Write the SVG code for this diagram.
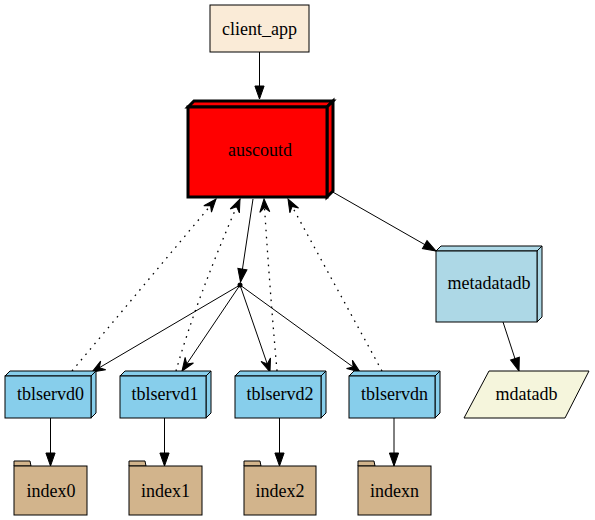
<svg xmlns="http://www.w3.org/2000/svg" width="595" height="520" viewBox="0 0 595 520" font-family="'Liberation Serif', 'Times New Roman', 'DejaVu Serif', serif">
<style>
text{font-family:'Liberation Serif','Times New Roman','DejaVu Serif',serif;font-size:18px;text-anchor:middle;fill:#000;stroke:none}
.n{stroke:#000;stroke-width:1}
.e{fill:none;stroke:#000;stroke-width:1}
.d{stroke-dasharray:1.6,5.4;stroke-width:1.3}
</style>
<defs>
<marker id="an" markerUnits="userSpaceOnUse" markerWidth="14" markerHeight="11" refX="13" refY="5" orient="auto" overflow="visible"><path d="M0,0.4 L13,5 L0,9.6 Z" fill="#000" stroke="#000" stroke-width="1"/></marker>
<marker id="av" markerUnits="userSpaceOnUse" markerWidth="14" markerHeight="11" refX="13" refY="5" orient="auto" overflow="visible"><path d="M0,0 L13,5 L0,10 L4.5,5 Z" fill="#000" stroke="#000" stroke-width="1" stroke-dasharray="none"/></marker>
</defs>
<rect width="595" height="520" fill="#fff"/>
<g id="edges">
<path class="e" d="M259.5,52 L259.5,99" marker-end="url(#an)"/>
<path class="e" d="M253,199 L240.5,282" marker-end="url(#an)"/>
<circle cx="240" cy="285" r="2.5" fill="#000"/>
<path class="e" d="M240,285 L92,372" marker-end="url(#av)"/>
<path class="e" d="M240,285 L182,371" marker-end="url(#av)"/>
<path class="e" d="M240,285 L270,372" marker-end="url(#av)"/>
<path class="e" d="M240,285 L360,372" marker-end="url(#av)"/>
<path class="e d" d="M72,371 L216,199" marker-end="url(#av)"/>
<path class="e d" d="M176,371 Q196,300 240,199" marker-end="url(#av)"/>
<path class="e d" d="M277,371 Q269,280 264,199" marker-end="url(#av)"/>
<path class="e d" d="M382,371 L288,199" marker-end="url(#av)"/>
<path class="e" d="M331,191 L436,251" marker-end="url(#an)"/>
<path class="e" d="M503,322 L519,371" marker-end="url(#an)"/>
<path class="e" d="M50.5,418 L50.5,466" marker-end="url(#an)"/>
<path class="e" d="M164.5,418 L164.5,466" marker-end="url(#an)"/>
<path class="e" d="M279.5,418 L279.5,466" marker-end="url(#an)"/>
<path class="e" d="M394,418 L394,466" marker-end="url(#an)"/>
</g>
<g id="client_app">
<rect class="n" x="210" y="5" width="99" height="47" fill="#faebd7"/>
<text x="259.5" y="34.5">client_app</text>
</g>
<g id="auscoutd">
<path d="M188,107 L194,101 L333,101 L327,107 Z" fill="#ff0000" stroke="#000" stroke-width="3"/>
<path d="M327,107 L333,101 L333,191 L327,197 Z" fill="#ff0000" stroke="#000" stroke-width="3"/>
<rect x="188" y="107" width="139" height="90" fill="#ff0000" stroke="#000" stroke-width="3"/>
<text x="260" y="156">auscoutd</text>
</g>
<g id="metadatadb">
<path class="n" d="M436,251 L441,246 L542,246 L537,251 Z" fill="#add8e6"/>
<path class="n" d="M537,251 L542,246 L542,317 L537,322 Z" fill="#add8e6"/>
<rect class="n" x="436" y="251" width="101" height="71" fill="#add8e6"/>
<text x="489" y="289">metadatadb</text>
</g>
<g id="mdatadb">
<path class="n" d="M464,418 L489,371 L589,371 L565,418 Z" fill="#f5f5dc"/>
<text x="526.5" y="399.5">mdatadb</text>
</g>
<g id="tblservd0">
<path class="n" d="M5,376 L10,371 L96,371 L91,376 Z" fill="#87ceeb"/>
<path class="n" d="M91,376 L96,371 L96,413 L91,418 Z" fill="#87ceeb"/>
<rect class="n" x="5" y="376" width="86" height="42" fill="#87ceeb"/>
<text x="50.5" y="399.5">tblservd0</text>
</g>
<g id="tblservd1">
<path class="n" d="M120,376 L125,371 L211,371 L206,376 Z" fill="#87ceeb"/>
<path class="n" d="M206,376 L211,371 L211,413 L206,418 Z" fill="#87ceeb"/>
<rect class="n" x="120" y="376" width="86" height="42" fill="#87ceeb"/>
<text x="165" y="399.5">tblservd1</text>
</g>
<g id="tblservd2">
<path class="n" d="M235,376 L240,371 L326,371 L321,376 Z" fill="#87ceeb"/>
<path class="n" d="M321,376 L326,371 L326,413 L321,418 Z" fill="#87ceeb"/>
<rect class="n" x="235" y="376" width="86" height="42" fill="#87ceeb"/>
<text x="280" y="399.5">tblservd2</text>
</g>
<g id="tblservdn">
<path class="n" d="M349,376 L354,371 L440,371 L435,376 Z" fill="#87ceeb"/>
<path class="n" d="M435,376 L440,371 L440,413 L435,418 Z" fill="#87ceeb"/>
<rect class="n" x="349" y="376" width="86" height="42" fill="#87ceeb"/>
<text x="394.5" y="399.5">tblservdn</text>
</g>
<g id="index0">
<path class="n" d="M14,466 L14,461 L30,461 L31,466 Z" fill="#d2b48c"/>
<rect class="n" x="14" y="466" width="73" height="49" fill="#d2b48c"/>
<text x="51" y="497">index0</text>
</g>
<g id="index1">
<path class="n" d="M129,466 L129,461 L145,461 L146,466 Z" fill="#d2b48c"/>
<rect class="n" x="129" y="466" width="73" height="49" fill="#d2b48c"/>
<text x="165.5" y="497">index1</text>
</g>
<g id="index2">
<path class="n" d="M244,466 L244,461 L260,461 L261,466 Z" fill="#d2b48c"/>
<rect class="n" x="244" y="466" width="72" height="49" fill="#d2b48c"/>
<text x="280" y="497">index2</text>
</g>
<g id="indexn">
<path class="n" d="M358,466 L358,461 L374,461 L375,466 Z" fill="#d2b48c"/>
<rect class="n" x="358" y="466" width="73" height="49" fill="#d2b48c"/>
<text x="394.5" y="497">indexn</text>
</g>
</svg>
